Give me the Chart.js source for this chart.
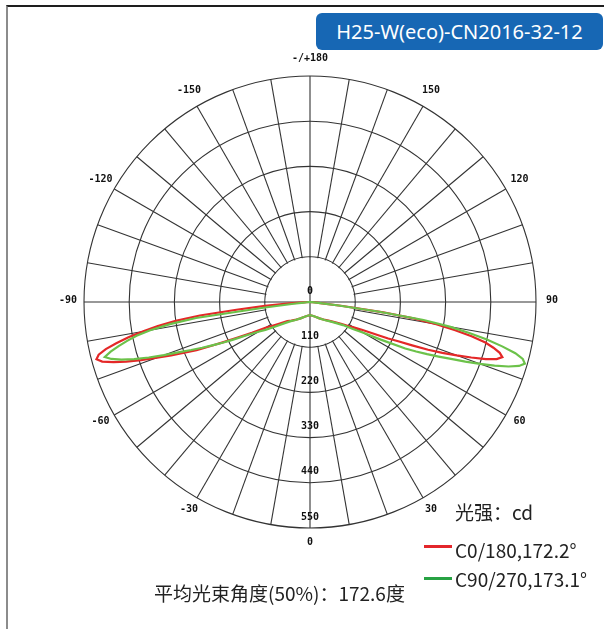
<!DOCTYPE html>
<html>
<head>
<meta charset="utf-8">
<title>H25-W(eco)-CN2016-32-12</title>
<script src="https://cdn.jsdelivr.net/npm/chart.js@4/dist/chart.umd.min.js"></script>
<style>
  body { margin: 0; background: #fff; }
  #wrap { position: relative; width: 604px; height: 629px; overflow: hidden; font-family: "Noto Sans CJK SC", "Noto Sans", sans-serif; color: #222; }
  #frame { position: absolute; left: 6px; top: 5px; width: 650px; height: 700px; border-top: 2px solid #1e1e1e; border-left: 2px solid #8c8c8c; }
  #title { position: absolute; left: 316px; top: 13px; width: 287px; height: 37px; background: #1767b4; border-radius: 6px; color: #fff; font: 20px "Noto Sans", sans-serif; line-height: 37px; text-align: center; }
  canvas { position: absolute; left: 0; top: 0; }
  .txt { position: absolute; font-size: 19px; line-height: 1; white-space: nowrap; }
  .key { position: absolute; left: 424px; width: 28px; height: 3px; }
</style>
</head>
<body>
<div id="wrap">
  <div id="frame"></div>
  <canvas id="polar" width="604" height="629"></canvas>
  <div id="title">H25-W(eco)-CN2016-32-12</div>
  <div class="txt" style="left:455px;top:502px">光强：cd</div>
  <div class="key" style="top:545px;background:#e3262b"></div>
  <div class="txt" style="left:455px;top:540px">C0/180,172.2°</div>
  <div class="key" style="top:577px;background:#27a243"></div>
  <div class="txt" style="left:455px;top:569px">C90/270,173.1°</div>
  <div class="txt" style="left:154px;top:583px">平均光束角度(50%)：172.6度</div>
</div>
<script>
// Angulos lidos (graus a partir de 0 = para baixo)
const ANGLES = [0, 10, 20, 30, 40, 45, 50, 55, 58, 60, 62, 64, 65, 66, 67, 68, 69, 70, 71, 72,
                73, 74, 75, 76, 77, 78, 79, 80, 81, 82, 83, 84, 85, 86, 88, 90, 100, 120, 150, 180];

// Intensidade (cd) por plano C
const C0   = [32, 34, 38, 46, 57, 64, 75, 92, 112, 125, 145, 185, 210, 235, 270, 310, 345, 380, 415, 450,
              475, 487, 478, 460, 438, 402, 360, 312, 255, 180, 80, 30, 12, 6, 3, 0, 0, 0, 0, 0];
const C180 = [32, 34, 38, 46, 57, 64, 72, 92, 110, 125, 160, 200, 228, 262, 300, 330, 362, 396, 435, 470,
              500, 526, 538, 530, 510, 482, 450, 412, 375, 330, 270, 180, 110, 50, 8, 2, 0, 0, 0, 0];
const C90  = [32, 34, 38, 46, 58, 66, 78, 98, 125, 150, 195, 258, 285, 312, 340, 370, 405, 440, 475, 508,
              532, 544, 536, 515, 480, 440, 395, 345, 280, 170, 70, 25, 10, 5, 3, 0, 0, 0, 0, 0];
const C270 = [32, 34, 38, 46, 58, 66, 80, 105, 128, 145, 170, 210, 235, 258, 285, 312, 340, 378, 415, 450,
              480, 503, 517, 500, 478, 455, 430, 395, 345, 280, 110, 40, 15, 8, 4, 0, 0, 0, 0, 0];

// Escala
const RING_TICKS = [0, 110, 220, 330, 440, 550];
const ANGLE_TICKS = [180, 150, 120, 90, 60, 30, 0, -30, -60, -90, -120, -150];
const ANGLE_NAMES = ["-/+180", "150", "120", "90", "60", "30", "0", "-30", "-60", "-90", "-120", "-150"];

const GRID_COLOR = "#333";
const LABEL_FONT = 'bold 10px "DejaVu Sans Mono", monospace';

// Uma posicao por grau, comecando no topo (180) em sentido horario
const LABELS = [];
for (let i = 0; i < 360; i++) { LABELS.push(180 - i); }

function AngleIndex(a){
  return ((180 - a) % 360 + 360) % 360;
}

// Curva fechada: lado direito (+) e lado esquerdo (-)
function BuildCurve(right, left){
  let data = new Array(360).fill(null);
  ANGLES.forEach((g, i) => {
    data[AngleIndex(g)] = right[i];
    data[AngleIndex(-g)] = left[i];
  });
  return data;
}

// Circulo interno vazio, eixos e rotulos
const PolarDecor = {
  id: "polarDecor",
  beforeDatasetsDraw(chart){
    const s = chart.scales.r;
    const ctx = chart.ctx;
    const inner = s.getDistanceFromCenterForValue(RING_TICKS[1]);
    ctx.save();
    ctx.fillStyle = "#fff";
    ctx.beginPath();
    ctx.arc(s.xCenter, s.yCenter, inner - 0.8, 0, Math.PI * 2);
    ctx.fill();
    ctx.strokeStyle = GRID_COLOR;
    ctx.lineWidth = 1.1;
    ctx.beginPath();
    ctx.moveTo(s.xCenter - inner, s.yCenter);
    ctx.lineTo(s.xCenter + inner, s.yCenter);
    ctx.moveTo(s.xCenter, s.yCenter - inner);
    ctx.lineTo(s.xCenter, s.yCenter + inner);
    ctx.stroke();
    ctx.restore();
  },
  afterDatasetsDraw(chart){
    const s = chart.scales.r;
    const ctx = chart.ctx;
    ctx.save();
    ctx.font = LABEL_FONT;
    ctx.fillStyle = "#111";
    ctx.textAlign = "center";
    ctx.textBaseline = "middle";
    RING_TICKS.forEach(v => {
      const d = s.getDistanceFromCenterForValue(v);
      ctx.fillText(String(v), s.xCenter, s.yCenter + d - 11);
    });
    ANGLE_TICKS.forEach((a, i) => {
      const p = s.getPointPosition(AngleIndex(a), s.drawingArea + 16);
      ctx.fillText(ANGLE_NAMES[i], p.x, p.y - 2);
    });
    ctx.restore();
  }
};

var data = {
  type: "radar",
  data: {
    labels: LABELS,
    datasets: [
      { label: "C90/270", data: BuildCurve(C90, C270), borderColor: "#6cc24a", order: 0 },
      { label: "C0/180", data: BuildCurve(C0, C180), borderColor: "#e42828", order: 1 }
    ]
  },
  options: {
    responsive: false,
    animation: false,
    layout: { padding: { left: 84, top: 76, right: 68, bottom: 101 } },
    datasets: {
      radar: { borderWidth: 2.2, fill: false, pointRadius: 0, pointHoverRadius: 0, spanGaps: true, tension: 0 }
    },
    plugins: {
      legend: { display: false },
      tooltip: { enabled: false }
    },
    scales: {
      r: {
        min: 0,
        max: 550,
        startAngle: 0,
        ticks: { display: false, stepSize: 110 },
        pointLabels: { display: false },
        grid: { circular: true, color: GRID_COLOR, lineWidth: 1.1 },
        angleLines: { color: GRID_COLOR, lineWidth: ctx => (ctx.index % 10 === 0 ? 1.1 : 0) }
      }
    }
  },
  plugins: [PolarDecor]
};

const MyChart = new Chart("polar", data);
</script>
</body>
</html>
